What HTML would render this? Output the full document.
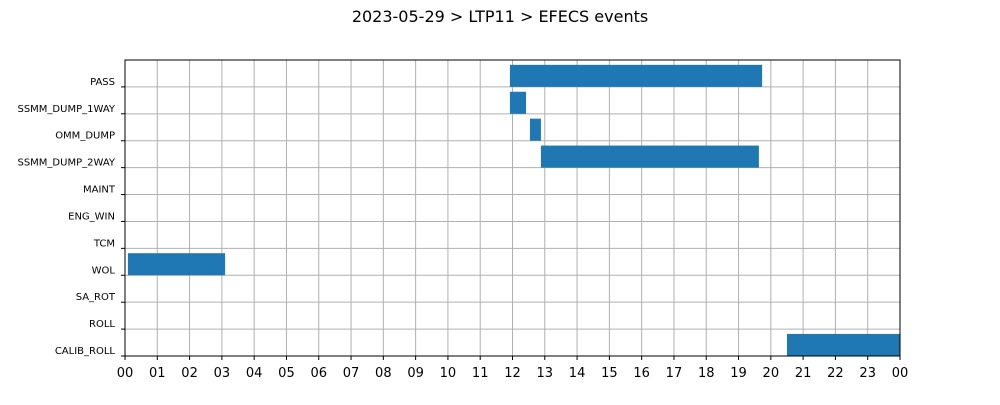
<!DOCTYPE html>
<html><head><meta charset="utf-8"><style>
body{margin:0;background:#fff;}
svg text{font-family:"DejaVu Sans","Liberation Sans",sans-serif;}
</style></head><body>
<svg width="1000" height="400" viewBox="0 0 1000 400" xmlns="http://www.w3.org/2000/svg">
<text x="500" y="22" text-anchor="middle" font-size="16" fill="#000">2023-05-29 &gt; LTP11 &gt; EFECS events</text>
<g id="grid"></g>
<g id="bars"></g>
<g id="axes"></g>
<rect x="125" y="60" width="775" height="296" fill="none" stroke="#000" stroke-width="1"/>
</svg>
<script>
const categories=["PASS","SSMM_DUMP_1WAY","OMM_DUMP","SSMM_DUMP_2WAY","MAINT","ENG_WIN","TCM","WOL","SA_ROT","ROLL","CALIB_ROLL"];
const barCats=["PASS","SSMM_DUMP_1WAY","OMM_DUMP","SSMM_DUMP_2WAY","WOL","CALIB_ROLL"];
const barStarts=[11.92,11.92,12.54,12.88,0.09,20.5];
const barEnds=[19.73,12.42,12.88,19.63,3.1,24];
const xTickLabels=["00","01","02","03","04","05","06","07","08","09","10","11","12","13","14","15","16","17","18","19","20","21","22","23","00"];
const NS="http://www.w3.org/2000/svg";
const x0=125,x1=900,yTop=60,yBot=356;
const rowH=(yBot-yTop)/categories.length;
const xs=h=>x0+(x1-x0)*h/24;
const yg=c=>yTop+rowH*(categories.indexOf(c)+1);
const grid=document.getElementById('grid'),bars=document.getElementById('bars'),axes=document.getElementById('axes');
function mk(t,a,p){const e=document.createElementNS(NS,t);for(const k in a)e.setAttribute(k,a[k]);p.appendChild(e);return e;}
xTickLabels.forEach((l,i)=>{
  const x=xs(i);
  const g=mk('line',{x1:x,x2:x,y1:yTop,y2:yBot,stroke:'#b0b0b0','stroke-width':1},grid);
  
  
  const tk=mk('line',{x1:x,x2:x,y1:yBot,y2:yBot+4,stroke:'#000'},axes);
  
  
  const t=mk('text',{x:x,y:yBot+21,'text-anchor':'middle','font-size':13,fill:'#000'},axes);
  t.textContent=l;
  
  
});
categories.forEach(c=>{
  const y=yg(c);
  const g=mk('line',{x1:x0,x2:x1,y1:y,y2:y,stroke:'#b0b0b0','stroke-width':1},grid);
  
  
  const tk=mk('line',{x1:x0-4,x2:x0,y1:y,y2:y,stroke:'#000'},axes);
  
  
  const t=mk('text',{x:115,y:y-2,'text-anchor':'end','font-size':10,fill:'#000'},axes);
  t.textContent=c;
  
  
});
barCats.forEach((c,i)=>{
  const y=yg(c);
  const r=mk('rect',{x:xs(barStarts[i]),y:y-rowH*0.82,width:xs(barEnds[i])-xs(barStarts[i]),height:rowH*0.82,fill:'#1f77b4'},bars);
  
  
});
</script>
</body></html>
